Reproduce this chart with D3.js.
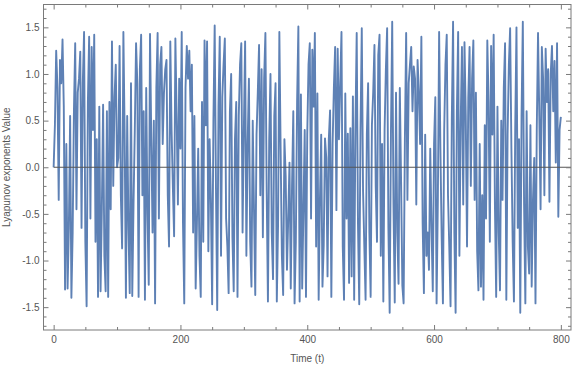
<!DOCTYPE html>
<html><head><meta charset="utf-8">
<script src="https://cdn.jsdelivr.net/npm/d3@7"></script>
<style>body{margin:0;background:#fff}svg{display:block}text{font-family:"Liberation Sans",Arial,sans-serif}</style>
</head><body><svg id="c" width="576" height="366"></svg>
<script>
const xTicks=[0,200,400,600,800];
const yTicks=[-1.5,-1.0,-0.5,0.0,0.5,1.0,1.5];
const xLabel="Time (t)";
const yLabel="Lyapunov exponents Value";
const timeStep=2;
const values=[
0.00,0.45,1.25,0.85,-0.35,1.15,0.90,1.37,0.65,-1.31,
0.25,-1.30,-0.65,0.55,-1.40,-0.70,0.60,1.33,-0.45,0.80,
0.95,1.24,-0.65,0.90,1.45,-0.80,-1.49,0.70,1.40,-0.55,
1.29,0.40,1.42,-0.80,0.30,-1.39,0.65,-1.33,-0.45,0.67,
-0.95,-1.33,0.60,-1.39,0.70,-0.45,1.35,-0.20,0.75,1.10,
0.00,0.10,1.30,-0.30,-0.87,1.45,0.35,-1.40,0.55,-0.65,
-1.35,0.90,-1.38,-0.40,0.40,1.33,0.90,-1.39,1.05,1.42,
-0.30,0.60,-1.42,0.85,-0.50,-1.26,1.43,0.30,-0.70,0.50,
-1.46,0.85,1.44,-0.55,1.10,1.29,0.25,0.80,1.05,1.15,
-0.30,-0.85,1.35,0.40,-0.20,-0.74,1.38,0.55,-0.40,0.95,
0.20,1.45,-0.60,-1.46,0.85,1.30,0.95,1.25,0.60,1.10,
-0.70,0.55,-1.30,-0.60,0.20,-0.95,-1.39,0.70,-0.80,1.36,
0.45,1.35,-0.90,0.30,-0.35,-1.47,0.50,1.52,-0.20,-1.53,
0.65,1.40,-0.95,0.75,1.10,1.38,-0.55,-0.85,-1.35,0.60,
1.00,-0.75,-1.33,0.30,0.70,-1.39,0.55,1.10,1.33,-0.70,
0.40,1.35,-0.95,0.25,0.95,-0.80,-1.28,0.50,-0.45,-1.37,
0.35,0.80,1.31,-0.30,1.05,-0.75,0.95,1.44,-0.25,-1.44,
0.30,1.00,-0.70,-1.20,0.55,0.90,-1.44,-0.60,1.45,0.20,
-0.95,-1.37,0.30,-0.10,-1.10,-0.55,0.05,-1.30,-0.20,0.60,
-1.46,-0.80,0.70,1.51,-1.44,0.78,-1.30,-0.45,0.40,-1.39,
0.35,1.10,1.33,-0.55,1.26,0.65,1.44,-0.85,0.79,-1.42,
-0.35,0.35,-1.28,-0.83,0.31,0.10,-1.17,0.30,0.61,-1.39,
0.25,0.85,1.29,-0.46,1.27,0.30,0.90,1.45,-0.85,-1.42,
0.79,-0.55,0.36,-1.24,0.42,-1.17,0.76,-1.42,0.45,1.44,
-0.60,-1.47,0.40,1.49,-0.25,-0.85,-1.42,0.35,0.90,-0.70,
-1.39,0.45,0.80,1.31,-0.20,-0.80,1.20,1.42,-0.95,0.25,
-1.44,0.40,1.05,1.49,-0.65,-1.56,0.35,1.56,-0.40,-1.45,
0.80,-0.70,-1.25,0.85,-0.15,-1.27,-1.46,0.30,1.44,-0.35,
0.90,1.10,1.29,0.60,1.08,0.95,-0.40,1.15,0.80,0.25,
1.40,-0.60,-1.35,0.35,-0.95,-0.70,-1.10,0.20,-0.65,-1.33,
0.25,0.75,-1.46,-0.35,1.45,0.20,-0.75,-1.46,0.40,1.10,
1.42,-0.30,-0.85,-1.49,0.50,1.56,-0.70,-1.56,0.60,1.45,
-0.95,0.45,1.29,-0.40,1.34,0.55,-0.85,0.75,1.29,-0.20,
0.95,1.36,-0.35,0.80,-0.90,-1.32,0.25,-1.28,-0.30,-1.42,
0.45,-0.55,1.36,0.70,-0.80,1.30,0.35,1.42,-0.40,-1.39,
0.65,-0.70,-1.32,0.50,-0.35,0.85,1.33,-1.42,0.35,1.10,
1.49,0.20,-0.80,-1.44,0.40,1.50,-0.65,0.30,-1.56,0.55,
1.56,-0.40,-1.46,0.60,-0.85,-1.14,0.45,-1.28,-0.35,0.10,
-1.46,0.40,1.44,0.55,-0.45,1.29,0.95,-0.30,1.27,0.70,
1.05,-0.37,1.00,1.30,0.60,1.14,0.05,1.33,-0.53,0.40,
0.54
];
const times=values.map((v,i)=>i*timeStep);

const svg=d3.select("#c");
const L=43.5,R=571,T=4.5,B=330;
const x=d3.scaleLinear().domain([-16,816]).range([L,R]);
const y=d3.scaleLinear().domain([-1.745,1.745]).range([B,T]);
const frameCol="#7a7a7a",txtCol="#555";

svg.append("clipPath").attr("id","cp").append("rect").attr("x",L).attr("y",T).attr("width",R-L).attr("height",B-T);

const line=d3.line().x((d,i)=>x(times[i])).y(d=>y(d));
svg.append("path").datum(values).attr("clip-path","url(#cp)")
 .attr("d",line).attr("fill","none").attr("stroke","#5E81B5").attr("stroke-width",1.9).attr("stroke-linejoin","round");

svg.append("line").attr("x1",x(0)).attr("x2",R).attr("y1",y(0)).attr("y2",y(0)).attr("stroke","#555").attr("stroke-width",1);

const xMinor=d3.range(0,801,50).filter(v=>v%200!==0);
const yMinor=d3.range(-17,18,1).map(v=>v/10).filter(v=>Math.abs(v*2-Math.round(v*2))>1e-6);

function styleAxis(g){g.select(".domain").remove();g.selectAll("line").attr("stroke",frameCol);g.selectAll("text").attr("fill",txtCol).attr("font-size","10px");}

svg.append("g").attr("transform",`translate(0,${B})`).call(d3.axisBottom(x).tickValues(xTicks).tickFormat(d3.format("d")).tickSize(-5).tickPadding(6)).call(styleAxis);
svg.append("g").attr("transform",`translate(0,${B})`).call(d3.axisBottom(x).tickValues(xMinor).tickFormat("").tickSize(-3)).call(styleAxis);
svg.append("g").attr("transform",`translate(0,${T})`).call(d3.axisTop(x).tickValues(xTicks).tickFormat("").tickSize(-5)).call(styleAxis);
svg.append("g").attr("transform",`translate(0,${T})`).call(d3.axisTop(x).tickValues(xMinor).tickFormat("").tickSize(-3)).call(styleAxis);
svg.append("g").attr("transform",`translate(${L},0)`).call(d3.axisLeft(y).tickValues(yTicks).tickFormat(d3.format(".1f")).tickSize(-5).tickPadding(4)).call(styleAxis);
svg.append("g").attr("transform",`translate(${L},0)`).call(d3.axisLeft(y).tickValues(yMinor).tickFormat("").tickSize(-3)).call(styleAxis);
svg.append("g").attr("transform",`translate(${R},0)`).call(d3.axisRight(y).tickValues(yTicks).tickFormat("").tickSize(-5)).call(styleAxis);
svg.append("g").attr("transform",`translate(${R},0)`).call(d3.axisRight(y).tickValues(yMinor).tickFormat("").tickSize(-3)).call(styleAxis);

svg.selectAll("text").each(function(){const t=d3.select(this);t.text(t.text().replace("−","-"));});

svg.append("rect").attr("x",L).attr("y",T).attr("width",R-L).attr("height",B-T).attr("fill","none").attr("stroke",frameCol).attr("stroke-width",1);

svg.append("text").attr("x",(L+R)/2).attr("y",362).attr("text-anchor","middle").attr("fill",txtCol).attr("font-size","10px").text(xLabel);
svg.append("text").attr("transform",`translate(10,${y(0)}) rotate(-90)`).attr("text-anchor","middle").attr("fill",txtCol).attr("font-size","10px").text(yLabel);
</script></body></html>
